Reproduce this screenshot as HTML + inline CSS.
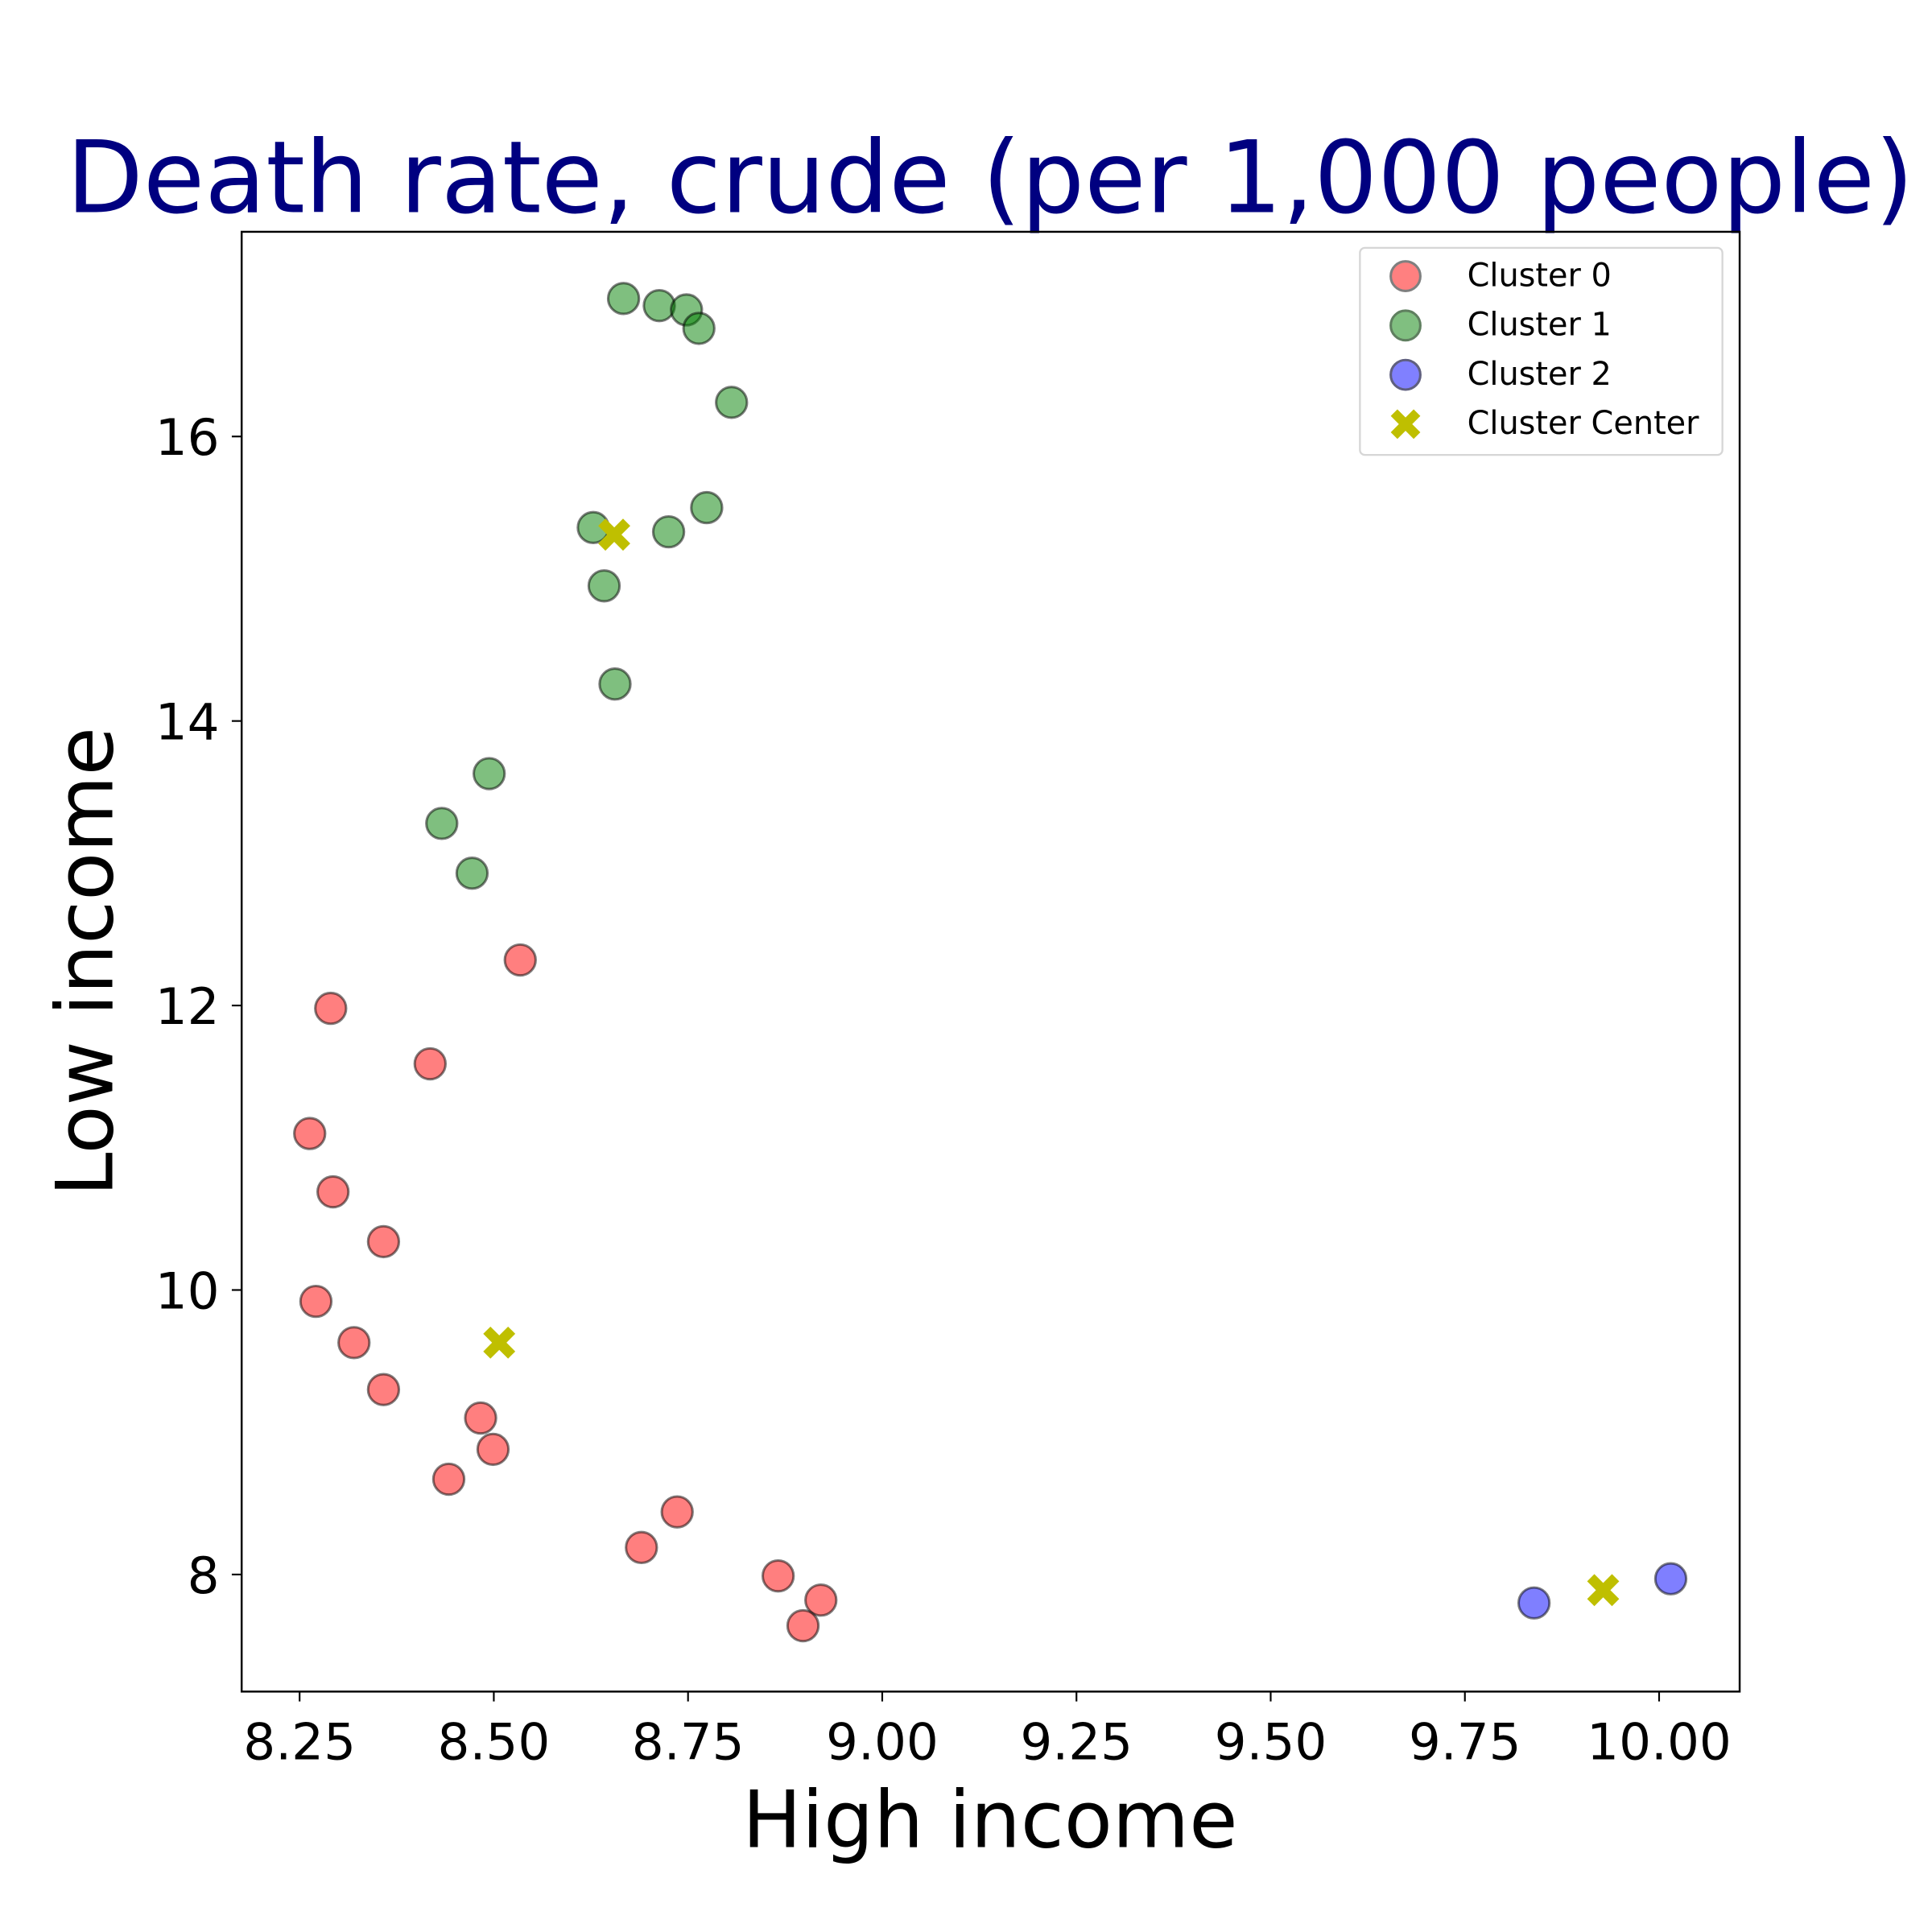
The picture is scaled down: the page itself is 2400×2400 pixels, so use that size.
<!DOCTYPE html>
<html><head><meta charset="utf-8"><style>
html,body{margin:0;padding:0;background:#fff;}
svg{display:block;font-family:"DejaVu Sans","Liberation Sans",sans-serif;}
</style></head><body>
<svg id="chart" width="2400" height="2400" viewBox="0 0 1567 1567" xmlns="http://www.w3.org/2000/svg">
<rect width="1567" height="1567" fill="#fff"/>
<text x="803" y="172" text-anchor="middle" font-size="81" fill="#000080">Death rate, crude (per 1,000 people)</text>
<g id="ticks"></g>
<g id="marks"></g>
<rect x="196" y="188" width="1215" height="1184" fill="none" stroke="#000" stroke-width="1.6"/>
<text x="803" y="1498" text-anchor="middle" font-size="64">High income</text>
<text transform="translate(91,780) rotate(-90)" text-anchor="middle" font-size="64">Low income</text>
<g>
<rect x="1103" y="201" width="294" height="168" rx="4" fill="#fff" stroke="#d6d6d6" stroke-width="1.5"/>
<g><circle cx="1140" cy="224" r="12" fill="#ff8080" stroke="#7f7f7f" stroke-width="2"/><text x="1190" y="232" font-size="26">Cluster 0</text></g>
<g><circle cx="1140" cy="264" r="12" fill="#80bf80" stroke="#5f7f5f" stroke-width="2"/><text x="1190" y="272" font-size="26">Cluster 1</text></g>
<g><circle cx="1140" cy="304" r="12" fill="#8080ff" stroke="#5f5f7f" stroke-width="2"/><text x="1190" y="312" font-size="26">Cluster 2</text></g>
<g><path id="legx" fill="#bfbf00"/><text x="1190" y="352" font-size="26">Cluster Center</text></g>
</g>
</svg>
<script>
const xTicks=[8.25,8.5,8.75,9.0,9.25,9.5,9.75,10.0];
const xTickLabels=["8.25","8.50","8.75","9.00","9.25","9.50","9.75","10.00"];
const yTicks=[8,10,12,14,16];
const yTickLabels=["8","10","12","14","16"];
const c0x=[8.290,8.418,8.534,8.263,8.293,8.358,8.271,8.320,8.358,8.483,8.499,8.442,8.736,8.690,8.866,8.921,8.898];
const c0y=[11.98,11.59,12.32,11.10,10.69,10.34,9.92,9.63,9.30,9.10,8.88,8.67,8.44,8.19,7.99,7.82,7.64];
const c1x=[8.667,8.713,8.748,8.764,8.806,8.774,8.628,8.725,8.642,8.656,8.494,8.433,8.472];
const c1y=[16.97,16.92,16.89,16.76,16.24,15.50,15.36,15.33,14.95,14.26,13.63,13.28,12.93];
const c2x=[9.839,10.015];
const c2y=[7.80,7.97];
const centerX=[8.655,8.507,9.928];
const centerY=[15.31,9.63,7.89];
const NS="http://www.w3.org/2000/svg";
const X0=196,X1=1411,Y0=1372,Y1=188,xmin=8.1754,xmax=10.1037,ymin=7.177,ymax=17.439;
function sx(v){return X0+(v-xmin)/(xmax-xmin)*(X1-X0);}
function sy(v){return Y0-(v-ymin)/(ymax-ymin)*(Y0-Y1);}
const tg=document.getElementById('ticks'),mg=document.getElementById('marks');
function mk(tag,attrs,parent){const e=document.createElementNS(NS,tag);for(const k in attrs)e.setAttribute(k,attrs[k]);parent.appendChild(e);return e;}
function xPath(x,y,s){const a=s*0.45,b=s;return `M${x-b},${y-b+a}L${x-b+a},${y-b}L${x},${y-a}L${x+b-a},${y-b}L${x+b},${y-b+a}L${x+a},${y}L${x+b},${y+b-a}L${x+b-a},${y+b}L${x},${y+a}L${x-b+a},${y+b}L${x-b},${y+b-a}L${x-a},${y}Z`;}
document.getElementById('legx').setAttribute('d',xPath(1140,344,12));
xTicks.forEach((v,i)=>{
 const l=mk('line',{x1:sx(v),x2:sx(v),y1:Y0,y2:Y0+8,stroke:'#000','stroke-width':1.4},tg);
 
 
 const t=mk('text',{x:sx(v),y:Y0+55,'text-anchor':'middle','font-size':'41'},tg);
 t.textContent=xTickLabels[i];
 
 
});
yTicks.forEach((v,i)=>{
 const l=mk('line',{x1:X0-8,x2:X0,y1:sy(v),y2:sy(v),stroke:'#000','stroke-width':1.4},tg);
 
 
 const t=mk('text',{x:X0-18,y:sy(v)+15,'text-anchor':'end','font-size':'41'},tg);
 t.textContent=yTickLabels[i];
 
 
});
function pts(xs,ys,fill,name){
 xs.forEach((v,i)=>{
  const c=mk('circle',{cx:sx(v),cy:sy(ys[i]),r:12.5,fill:fill,'fill-opacity':0.5,stroke:'#000','stroke-opacity':0.5,'stroke-width':2},mg);
  
  
 });
}
pts(c0x,c0y,'#ff0000','cluster-0-point');
pts(c1x,c1y,'#008000','cluster-1-point');
pts(c2x,c2y,'#0000ff','cluster-2-point');
centerX.forEach((v,i)=>{
 const p=mk('path',{d:xPath(sx(v),sy(centerY[i]),13),fill:'#bfbf00'},mg);
 
 
});
</script>
</body></html>
